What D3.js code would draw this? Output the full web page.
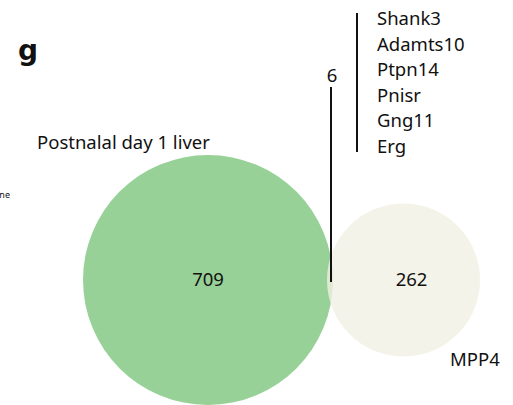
<!DOCTYPE html>
<html><head><meta charset="utf-8">
<script src="https://cdn.jsdelivr.net/npm/d3@7"></script>
<style>html,body{margin:0;padding:0;background:#fff;}svg{display:block;}</style>
</head><body>
<script>
const setNames = ["Postnalal day 1 liver", "MPP4"];
const uniqueCounts = [709, 262];
const overlapCount = 6;
const overlapGenes = ["Shank3", "Adamts10", "Ptpn14", "Pnisr", "Gng11", "Erg"];
const setColors = ["#98d198", "#f0f0e4"];

const W = 513, H = 405;
const font = "'Noto Sans', 'Open Sans', sans-serif";
const fs = 18.5;
const svg = d3.select("body").append("svg").attr("width", W).attr("height", H)
  .style("font-family", font);

const totals = [uniqueCounts[0] + overlapCount, uniqueCounts[1] + overlapCount];
const r = d3.scaleSqrt().domain([0, totals[0]]).range([0, 125]);
const r1 = r(totals[0]), r2 = r(totals[1]);
const cy = 280, cx1 = 208;
const cx2 = cx1 + r1 + r2 - 6;

const circles = [
  {cx: cx1, r: r1, fill: setColors[0], op: 1},
  {cx: cx2, r: r2, fill: setColors[1], op: 0.8}
];
svg.selectAll("circle.set").data(circles).join("circle").attr("class", "set")
  .attr("cx", d => d.cx).attr("cy", cy).attr("r", d => d.r)
  .attr("fill", d => d.fill).attr("fill-opacity", d => d.op);

// counts
svg.append("text").attr("x", cx1).attr("y", cy + 6).attr("text-anchor", "middle")
  .attr("font-size", fs).attr("fill", "#111").text(uniqueCounts[0]);
svg.append("text").attr("x", cx2 + 8).attr("y", cy + 6).attr("text-anchor", "middle")
  .attr("font-size", fs).attr("fill", "#111").text(uniqueCounts[1]);

// overlap pointer
const ox = cx1 + r1 - 2;
svg.append("line").attr("x1", ox).attr("x2", ox).attr("y1", 87).attr("y2", 282)
  .attr("stroke", "#111").attr("stroke-width", 2);
svg.append("text").attr("x", ox + 1).attr("y", 82).attr("text-anchor", "middle")
  .attr("font-size", fs).attr("fill", "#111").text(overlapCount);

// gene list
const gy = d3.scalePoint().domain(overlapGenes).range([25, 153]);
svg.append("line").attr("x1", 357).attr("x2", 357).attr("y1", 13).attr("y2", 152)
  .attr("stroke", "#111").attr("stroke-width", 2);
svg.selectAll("text.gene").data(overlapGenes).join("text").attr("class", "gene")
  .attr("x", 377).attr("y", d => gy(d)).attr("font-size", fs).attr("fill", "#111").text(d => d);

// labels
svg.append("text").attr("x", 37).attr("y", 149).attr("font-size", fs).attr("fill", "#111").text(setNames[0]);
svg.append("text").attr("x", 450).attr("y", 366).attr("font-size", fs).attr("fill", "#111").text(setNames[1]);
svg.append("text").attr("x", 18).attr("y", 60).attr("font-size", 28).attr("font-weight", "bold")
  .style("font-family", "'DejaVu Sans', sans-serif").attr("fill", "#111").text("g");
svg.append("text").attr("x", 10).attr("y", 198).attr("text-anchor", "end").attr("font-size", 9).attr("fill", "#111").text("ne");
</script>
</body></html>
